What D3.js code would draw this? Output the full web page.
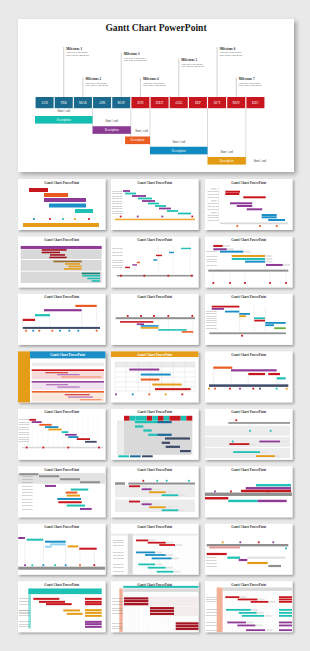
<!DOCTYPE html>
<html>
<head>
<meta charset="utf-8">
<script src="https://cdn.jsdelivr.net/npm/d3@7"></script>
<style>
  html, body { margin: 0; padding: 0; background: #e9e9e9; }
  svg { display: block; }
</style>
</head>
<body>
<div id="chart"></div>
<script>
// ---- main slide data ----
var months = ['JAN', 'FEB', 'MAR', 'APR', 'MAY', 'JUN', 'JULY', 'AUG', 'SEP', 'OCT', 'NOV', 'DEC'];
var monthPhase = ['a', 'a', 'a', 'a', 'a', 'b', 'b', 'b', 'b', 'b', 'b', 'b'];
var milestoneNames = ['Milestone 1', 'Milestone 2', 'Milestone 3', 'Milestone 4', 'Milestone 5', 'Milestone 6', 'Milestone 7'];
var milestoneMonth = [1, 2, 4, 5, 7, 9, 10];
var milestoneTier = [0, 3, 1, 3, 2, 0, 3];
var milestoneNote = ['This slide is an editable', 'slide with all your needs.'];
var taskStart = [0, 3, 4.7, 6, 9];
var taskEnd = [3, 5, 6, 9, 11];
var taskKey = ['teal', 'purple', 'orange', 'blue', 'gold'];
var taskText = 'Description';
var taskNote = 'Start / end';

// ---- thumbnail data: bars [start, end, row, series] ----
var thumbBars = [
  [[11,30,11,'r'],[26,50,16,'o'],[26,68,21,'p'],[31,68,26.5,'b'],[57,75,32,'t']],
  [[12,19,12,'p'],[14,25,14.5,'t'],[21,35,17,'p'],[27,41,19.5,'t'],[31,44,22,'p'],[37,48,24.5,'t'],[44,55,27,'t'],[48,60,29.5,'p'],[56,67,32,'t'],[67,80,34.5,'t']],
  [[20.3,35,12.7,'r'],[20.3,34.3,15,'r'],[38.3,60.7,18.3,'r'],[25,47.3,24.3,'p'],[31.7,47.3,27,'p'],[41.7,57.3,30.3,'p'],[56.7,71.7,36,'b'],[56.7,71.7,38.3,'b'],[63.3,80,41,'b']],
  [[23.7,48.7,13.5,'d'],[23.7,42,16,'d'],[32,47,18.5,'d'],[31.3,48.7,21,'d'],[35.3,63.7,25,'br'],[47,62,27.5,'g'],[50.3,63.7,30,'g'],[46,63.7,32.5,'g'],[63.7,82,37,'dt'],[64.3,82,39.3,'t'],[69.3,82,42,'t'],[73.7,82,44.5,'t']],
  [[70,80,12,'t'],[58,63,16,'b'],[45,51,19,'r'],[42.3,46.3,23.5,'b'],[25.7,29,26,'o'],[21.3,26,28.5,'p'],[14,19,31,'r']],
  [[8.3,17.7,9.5,'r'],[8.3,21.7,12.8,'p'],[15,38.3,15.2,'b'],[26.7,60,19.5,'g'],[26.7,60,22.5,'t'],[40,60,25.2,'b'],[61,77.7,28.5,'p']],
  [[4.7,17,26,'r'],[17,32,21.3,'t'],[26,63.7,16.3,'p'],[57.3,78.7,12,'o']],
  [[9,42.3,28,'r'],[25.7,33,30.3,'p'],[29.7,47.3,32,'b'],[29.7,47.3,34,'g'],[47.3,75.7,36,'t'],[70.7,82.3,38,'o']],
  [[6.7,34.3,12.7,'r'],[6.7,19,15,'p'],[20,34.3,17.7,'b'],[34.3,45,20,'b'],[34.3,41,22.3,'g'],[49,60,24.3,'t'],[49.3,60,26.7,'r'],[60.3,80.7,29,'b'],[60.3,69,31.3,'b'],[69.3,80.7,34.3,'gr']],
  [[27.3,50,21.3,'mr'],[39.3,61.7,23.3,'lp2'],[43.3,83.3,25.7,'lo2'],[28,50,33.3,'lp2'],[39.3,61.7,35.7,'lp2'],[46.7,71.7,43.3,'mr'],[50,75,45.7,'lp2'],[61.7,83.3,48.3,'lo2']],
  [[18.3,48.3,18.2,'p'],[29.7,59.7,23.2,'b'],[29.7,48.3,28.2,'o'],[41.3,70.7,33.2,'g'],[44,79.7,37.8,'r']],
  [[8.3,27.3,16.3,'o'],[26,71.7,19,'p'],[43.3,60,22.7,'r'],[63.3,75,22.7,'r'],[71.7,80.7,27,'t']],
  [[11.3,18,11,'r'],[13.7,23.7,13.3,'p'],[21.3,33.7,16,'o'],[27,40.3,18.3,'b'],[30.3,43.7,20.7,'g'],[43.7,50.3,23.3,'t'],[47,58.7,26,'p'],[50.3,60.3,28.3,'b'],[58.7,72,30.3,'r'],[67,78.7,33,'n']],
  [[24,46.3,13.3,'t'],[46.3,60.7,13.3,'nb'],[24,32.3,17.7,'t'],[32.3,40.7,21.7,'t'],[37.3,46.3,26,'t'],[46.3,60.7,26,'nb'],[54,79,29.7,'n'],[50.7,59,34,'n'],[54.7,69,38,'n'],[69,79.7,42.3,'n']],
  [[54.3,75,32.7,'p'],[24.3,44.3,35.3,'r'],[28.3,55,43.3,'t'],[51,70,47.3,'g']],
  [[1.3,20.3,8,'k'],[21,41.3,10,'k'],[42,62,13,'k'],[62,82,16,'k'],[27,38,19.7,'p'],[52.7,70.3,23.3,'t'],[47.7,59.3,26.3,'o'],[48.7,62,29.3,'g'],[39.3,63,32.7,'b'],[40.3,63.7,36,'r'],[48.7,67,39.3,'t'],[62,73.7,42.7,'p']],
  [[18,29,20,'r'],[30.7,40.7,23,'p'],[38,54.7,26,'g'],[50.7,67.3,29,'t'],[18,29,35.3,'r'],[30.7,40.7,38,'p'],[38,54.7,41,'g'],[50.7,67.3,44,'t']],
  [[51,86,19,'t'],[40.7,86,22,'p'],[36,86,24.7,'r'],[0,23.3,32,'r'],[23.3,52.7,34.7,'t'],[52.7,81.7,34.7,'p']],
  [[0.3,7,14.3,'p'],[8.7,25.3,16,'t'],[27,47.7,18,'b'],[32,47.7,20.7,'lb'],[27,33.7,23,'lb'],[49.7,60.3,22.7,'g'],[61.3,78.7,25,'r']],
  [[25,37.3,16.7,'r'],[36.7,54.7,19,'r'],[48.3,64,21.3,'r'],[25,44,28.7,'b'],[34,54.7,31.3,'b'],[40.7,60.7,34.7,'b'],[27.3,44,40.7,'t'],[36.7,54.7,44,'t'],[45.7,62.3,48,'t']],
  [[4.3,35,23.7,'pk2'],[1.7,21.7,30.3,'r'],[22.3,35,34,'t'],[33.7,42.3,36.3,'p'],[42.3,80.7,34,'l4'],[42.3,62.7,39.3,'g'],[63.3,76,42.3,'k']],
  [[15.3,41.3,17.7,'r'],[21,47,20.7,'r'],[28,53.7,23,'r'],[45.3,62,29.3,'g'],[48.7,64.7,32.7,'g'],[67,83.7,17.7,'r'],[67,83.7,20.7,'r'],[67,83.7,23,'r'],[67,83.7,29,'g'],[67,83.7,31.7,'g'],[67,83.7,34.7,'g'],[67,83.7,40.7,'p'],[67,83.7,43,'p'],[67,83.7,45.7,'p']],
  [[13,37.3,17.3,'d'],[13,37.3,20,'d'],[13,37.3,23,'d'],[39,63,27,'d'],[39,63,29.7,'d'],[39,63,32.7,'d'],[64.7,88,42.3,'d'],[64.7,88,45,'d'],[64.7,88,47.7,'d']],
  [[20.3,34.3,16,'r'],[32.7,52.3,18.3,'r'],[45.7,63.3,20.7,'r'],[21,45.7,28.7,'t'],[33.7,51.7,31.7,'t'],[36.7,59,34.7,'t'],[22.3,41,41.3,'p'],[32.3,50.3,44.3,'p'],[41,60,49,'p'],[74,87,16,'r'],[74,87,18.3,'r'],[74,87,20.7,'r'],[74,87,28.7,'t'],[74,87,31.7,'t'],[74,87,34.7,'t'],[74,87,41.3,'p'],[74,87,44.3,'p'],[74,87,49,'p']]
];

// blocks [start, end, rowTop, rowBottom, series]: timelines, headers, bands
var thumbBlocks = [
  [[5,81,44,48,'g']],
  [[4,84,39.7,41.2,'go']],
  [[15,83,43.5,45.2,'l'],[13,13.5,8,43.5,'l'],[6,11.7,9,10.5,'l'],[6,11.7,21,22.5,'l'],[6,11.7,33,34.5,'l']],
  [[2.7,83.7,9.5,12.5,'p'],[2.7,83.7,12.8,22.5,'l'],[2.7,83.7,23.5,34.3,'l'],[2.7,83.7,35.2,46.5,'l']],
  [[5.7,82.3,38.5,40,'k']],
  [[3.3,83.3,33.2,35.2,'k']],
  [[4.7,82,33,35,'n']],
  [[4.7,84,23.3,25.3,'k']],
  [[4.3,81,38.5,40.3,'k']],
  [[12,87.5,0,7,'b'],[0,12,0,51,'g'],[13.7,86,11.3,14.7,'l3'],[13.7,86,18,19.7,'r'],[13.7,86,20.2,28,'pk'],[13.7,86,29.7,31.3,'p'],[13.7,86,31.8,38.5,'lp'],[13.7,86,39.7,41.3,'o'],[13.7,86,41.8,50,'lo']],
  [[0,88,0,5.7,'g'],[4,84,10.7,15.7,'l3']],
  [[4,83.3,33,35.5,'n']],
  [[3.7,85.3,38,39.5,'l']],
  [[13,18.7,7,12,'r'],[18.7,24.3,7,12,'t'],[24.3,30,7,12,'t'],[30,35.7,7,12,'t'],[35.7,41.3,7,12,'r'],[41.3,47,7,12,'t'],[47,52.7,7,12,'r'],[52.7,58.3,7,12,'t'],[58.3,64,7,12,'r'],[64,69.7,7,12,'r'],[69.7,75.3,7,12,'t'],[75.3,81.3,7,12,'r'],[6.3,81.3,12,46,'l'],[6.3,13,12,46,'l3'],[7.3,18,46.5,48.5,'t'],[19,29.7,46.5,48.5,'nb'],[31,41.7,46.5,48.5,'n']],
  [[23.3,85,13.3,15,'k'],[0,85,17,27,'l3'],[0,85,28.3,38.3,'l3'],[0,85,39.3,49.3,'l3']],
  [[0,87,6.7,17.5,'l4']],
  [[17.3,84,16.3,18.3,'k'],[4,14,16,18.5,'k'],[4,84,19,31,'l3'],[4,84,33.3,45.7,'l3']],
  [[0,87,26.3,29.7,'k']],
  [[0.3,87,43,46,'k']],
  [[0,88,10,12,'l3'],[16.7,21.7,10,51,'l']],
  [[1.7,83.3,20.3,22.7,'k']],
  [[10.3,83.7,7.3,13,'t'],[10.3,13,13,47.3,'t2']],
  [[12.3,88,4.7,6.7,'t'],[8.3,11.7,7.3,51,'s'],[12.3,88,7.3,10.7,'l'],[12.3,88,15.5,25,'l5'],[39,88,25.5,35,'l5'],[64.7,88,40,50,'l5']],
  [[11.7,17.7,6.3,51,'s'],[17.7,87,6.3,9.7,'l']]
];

// marks [time, row, series]: milestone squares and legend keys
var thumbMarks = [
  [[16,40,'b'],[32,40,'r'],[45,40,'t'],[57,40,'g'],[71,40,'r']],
  [[9.7,37.5,'r'],[26.7,37.5,'p'],[51.3,37.5,'p'],[81.3,37.5,'r']],
  [[32.3,47,'o'],[55,47,'o'],[71.7,47,'o']],
  [],
  [[10,39.2,'r'],[33.3,39.2,'r'],[57.3,39.2,'r'],[80.7,39.2,'r']],
  [[8.3,46.5,'r'],[25,46.5,'r'],[40,46.5,'r'],[65,46.5,'r'],[81,46.5,'r']],
  [[8,36.8,'o'],[15.3,36.8,'b'],[21.3,36.8,'o'],[34.3,36.8,'o'],[42,36.8,'b'],[51.3,36.8,'b'],[60.3,36.8,'b'],[78.7,36.8,'o']],
  [[16.7,22,'r'],[30,22,'r'],[43,22,'r'],[57.3,22,'r'],[81.3,22,'r']],
  [[37,41.8,'r']],
  [],
  [[5,43,'p'],[21.7,43,'b'],[38.3,43,'o'],[54.7,43,'g'],[71.3,43,'r']],
  [[4,37.3,'g'],[10,37.3,'o'],[25,37.3,'r'],[35,37.3,'p'],[48.3,37.3,'r'],[55,37.3,'n'],[71.7,37.3,'t'],[81.7,37.3,'g']],
  [[8.7,38.7,'r'],[25.3,38.7,'r'],[50.3,38.7,'r'],[81,38.7,'r']],
  [],
  [[31.3,11.5,'r'],[45,22,'t'],[65.7,22,'t'],[27.7,32.7,'t']],
  [],
  [[32.3,14.5,'r'],[46.3,14.5,'t'],[55.7,14.5,'t'],[78,14.5,'t']],
  [[10,25.2,'p'],[26,25.2,'r'],[63.3,25.2,'r']],
  [[7,41.5,'p'],[14.3,41.5,'t'],[25.3,41.5,'b'],[37,41.5,'t'],[47.7,41.5,'b'],[62,41.5,'o'],[76.3,41.5,'r']],
  [],
  [[17.7,18.6,'g'],[35.3,18.6,'p'],[53.7,18.6,'r'],[68.3,18.6,'p'],[81,24.7,'t']],
  [],
  [],
  []
];

// thin connector lines [t0, t1, r0, r1, series]
var thumbLines = [
  [[16,16,35,39,'l'],[32,32,35,39,'l'],[45,45,35,39,'l'],[57,57,35,39,'l'],[71,71,35,39,'l']],
  [],
  [],
  [],
  [[47.3,47.3,8,39,'pk'],[62.3,62.3,8,39,'pk'],[79,79,5,39,'pk']],
  [[8.3,8.3,35,45,'pk'],[25,25,35,45,'pk'],[40,40,35,45,'pk'],[65,65,35,45,'pk'],[81,81,35,45,'pk']],
  [[4.7,4.7,27,33,'l'],[17,17,22,33,'l'],[32,32,22,33,'l'],[63.7,63.7,17,33,'l'],[78.7,78.7,13,33,'l']],
  [[47.3,47.3,25,44,'pk'],[57.3,57.3,25,44,'pk'],[81.3,81.3,25,44,'pk']],
  [[34.3,34.3,12,38.5,'l'],[49,49,12,38.5,'l'],[60.3,60.3,12,38.5,'l']],
  [],
  [[4,84,10.7,10.7,'l'],[4,84,15.7,15.7,'l'],[4,84,20.7,20.7,'l'],[4,84,25.7,25.7,'l'],[4,84,30.7,30.7,'l'],[4,84,35.7,35.7,'l'],[4,84,39.7,39.7,'l'],
   [4,4,10.7,39.7,'l'],[15,15,10.7,39.7,'l'],[27.3,27.3,10.7,39.7,'l'],[39,39,10.7,39.7,'l'],[50.7,50.7,10.7,39.7,'l'],[62.3,62.3,10.7,39.7,'l'],[74,74,10.7,39.7,'l'],[84,84,10.7,39.7,'l']],
  [[8.3,8.3,17,33,'l'],[26,26,20,33,'l'],[43.3,43.3,24,33,'l'],[71.7,71.7,28,33,'l']],
  [],
  [],
  [],
  [],
  [],
  [],
  [[7,7,16,41,'l'],[25.3,25.3,18,41,'l'],[47.7,47.7,20,41,'l'],[62,62,24,41,'l'],[76.3,76.3,26,41,'l']],
  [],
  [],
  [],
  [],
  []
];

// ---- layout & styles ----
var W = 310, H = 651;
var colors = {
  r: '#c8161e', t: '#1fc1b5', p: '#8e3a96', o: '#ea5b22', b: '#1a8fc7', g: '#e59c17', go: '#f0a830',
  n: '#3e4b68', k: '#8f8f8f', l: '#d9d9d9', l3: '#ececec', l4: '#e2e2e2', l5: '#f6eeee',
  d: '#a3121f', br: '#9a6a22', dt: '#157f72', nb: '#1d6a99', pk: '#f6dada', pk2: '#e89a9a',
  lb: '#8fd3f0', gr: '#6cae3b', s: '#f4b096', lp: '#f0e2f1', lp2: '#b777bd', lo: '#fbe8dc',
  lo2: '#f29a6e', mr: '#d64a4a', t2: '#8be3dc'
};
var taskColors = { teal: '#14bfb1', purple: '#8b3a94', orange: '#ea5c1f', blue: '#0f8bc1', gold: '#e39b13' };
var phaseColors = { a: '#1b6a8e', b: '#c8161e' };
var serif = '"Liberation Serif", "DejaVu Serif", serif';

var thumbCols = [18, 111, 205];
var thumbRows = d3.range(8).map(function(i) { return 179 + i * 57.45; });
var TW = 87.5, TH = 51;
var barH = [4, 1.8, 2, 1.6, 1.4, 2, 2.2, 1.6, 1.8, 1.3, 2, 2.2, 1.8, 2.2, 1.8, 2, 1.8, 2.4, 2, 1.8, 2.2, 2, 2.2, 1.8];
var headerTitle = { 9: [12, 87.5], 10: [0, 88] };   // thumbs whose title sits in a coloured header
var labelCol = { 1: 0.8, 2: 2.5, 4: 1, 5: 1.5, 8: 1, 12: 0.5, 15: 4, 19: 2, 20: 1, 21: 1, 22: 1, 23: 1 };
var trailing = { 16: 1, 19: 1, 23: 1, 14: 1, 5: 1 };
var gridLines = { 19: [22, 88, 12, 51, 3], 22: [12.3, 88, 10.7, 51, 2.5], 23: [17.7, 87, 9.7, 51, 2.5], 12: [10, 85, 9, 38, 5] };

var svg = d3.select('#chart').append('svg').attr('width', W).attr('height', H);
var defs = svg.append('defs');
defs.append('filter').attr('id', 'shadowBig').attr('x', '-5%').attr('y', '-5%').attr('width', '115%').attr('height', '120%')
  .append('feDropShadow').attr('dx', 2.5).attr('dy', 2.5).attr('stdDeviation', 2).attr('flood-color', '#000').attr('flood-opacity', 0.3);
defs.append('filter').attr('id', 'shadowSmall').attr('x', '-8%').attr('y', '-8%').attr('width', '120%').attr('height', '125%')
  .append('feDropShadow').attr('dx', 1.5).attr('dy', 1.5).attr('stdDeviation', 1.2).attr('flood-color', '#000').attr('flood-opacity', 0.35);

svg.append('rect').attr('width', W).attr('height', H).attr('fill', '#e9e9e9');

// ---------------- main slide ----------------
var slide = svg.append('g');
slide.append('rect').attr('x', 18).attr('y', 19).attr('width', 276).attr('height', 153)
  .attr('fill', '#fff').attr('filter', 'url(#shadowBig)');
slide.append('text').attr('x', 156).attr('y', 30.5).attr('text-anchor', 'middle')
  .attr('font-family', serif).attr('font-weight', 'bold').attr('font-size', 9.6).attr('fill', '#1a1a1a')
  .text('Gantt Chart PowerPoint');

var xMonth = d3.scaleBand().domain(months).range([35, 265]).paddingInner(0.06).paddingOuter(0.03);
var xTime = d3.scaleLinear().domain([0, 12]).range([35, 265]);
var barTop = 97, barBottom = 108.2;
var tierY = d3.scaleOrdinal().domain([0, 1, 2, 3]).range([47, 52.5, 58.5, 77.5]);
var taskY = d3.scaleLinear().domain([0, 4]).range([116, 157]);
var taskH = 7.6;

// milestone stems and notes
var ms = slide.selectAll('g.ms').data(milestoneNames).enter().append('g').attr('class', 'ms');
ms.append('line')
  .attr('x1', function(d, i) { return xMonth(months[milestoneMonth[i]]) + xMonth.bandwidth() / 2; })
  .attr('x2', function(d, i) { return xMonth(months[milestoneMonth[i]]) + xMonth.bandwidth() / 2; })
  .attr('y1', function(d, i) { return tierY(milestoneTier[i]); })
  .attr('y2', barTop)
  .attr('stroke', '#c9c9c9').attr('stroke-width', 0.9);
ms.append('text')
  .attr('x', function(d, i) { return xMonth(months[milestoneMonth[i]]) + xMonth.bandwidth() / 2 + 2.6; })
  .attr('y', function(d, i) { return tierY(milestoneTier[i]) + 2.5; })
  .attr('font-family', serif).attr('font-weight', 'bold').attr('font-size', 3.2).attr('fill', '#222')
  .text(function(d) { return d; });
milestoneNote.forEach(function(line, j) {
  ms.append('text')
    .attr('x', function(d, i) { return xMonth(months[milestoneMonth[i]]) + xMonth.bandwidth() / 2 + 2.6; })
    .attr('y', function(d, i) { return tierY(milestoneTier[i]) + 6.2 + j * 2.6; })
    .attr('font-family', serif).attr('font-size', 2.3).attr('fill', '#444')
    .text(line);
});

// month strip
slide.selectAll('rect.month').data(months).enter().append('rect').attr('class', 'month')
  .attr('x', function(d) { return xMonth(d); }).attr('y', barTop)
  .attr('width', xMonth.bandwidth()).attr('height', barBottom - barTop)
  .attr('fill', function(d, i) { return phaseColors[monthPhase[i]]; });
slide.selectAll('text.month').data(months).enter().append('text').attr('class', 'month')
  .attr('x', function(d) { return xMonth(d) + xMonth.bandwidth() / 2; }).attr('y', barTop + 6.7)
  .attr('text-anchor', 'middle').attr('font-family', serif).attr('font-size', 3.4).attr('fill', '#fff')
  .text(function(d) { return d; });

// guide lines at task ends
slide.selectAll('line.guide').data(taskEnd).enter().append('line').attr('class', 'guide')
  .attr('x1', function(d) { return xTime(d); }).attr('x2', function(d) { return xTime(d); })
  .attr('y1', barBottom)
  .attr('y2', function(d, i) { return i < taskEnd.length - 1 ? taskY(i + 1) : taskY(i) + taskH; })
  .attr('stroke', '#d0d0d0').attr('stroke-width', 0.8);

// task bars
var tk = slide.selectAll('g.task').data(taskStart).enter().append('g').attr('class', 'task');
tk.append('rect')
  .attr('x', function(d) { return xTime(d); })
  .attr('y', function(d, i) { return taskY(i); })
  .attr('width', function(d, i) { return xTime(taskEnd[i]) - xTime(d); })
  .attr('height', taskH)
  .attr('fill', function(d, i) { return taskColors[taskKey[i]]; });
tk.append('text')
  .attr('x', function(d, i) { return (xTime(d) + xTime(taskEnd[i])) / 2; })
  .attr('y', function(d, i) { return taskY(i) + taskH / 2 + 1; })
  .attr('text-anchor', 'middle').attr('font-family', serif).attr('font-size', 3).attr('fill', '#fff')
  .text(taskText);
tk.append('text')
  .attr('x', function(d, i) { return (xTime(d) + xTime(taskEnd[i])) / 2 + (i === 2 ? 4 : 0); })
  .attr('y', function(d, i) { return taskY(i) - 4.2; })
  .attr('text-anchor', 'middle').attr('font-family', serif).attr('font-size', 3).attr('fill', '#333')
  .text(taskNote);
slide.append('text')
  .attr('x', xTime(taskEnd[taskEnd.length - 1]) + 14).attr('y', taskY(taskEnd.length - 1) + taskH / 2 + 1)
  .attr('text-anchor', 'middle').attr('font-family', serif).attr('font-size', 3).attr('fill', '#333')
  .text(taskNote);

// ---------------- thumbnails ----------------
var tx = d3.scaleLinear().domain([0, 88]).range([0, TW + 0.5]);
var ty = d3.scaleLinear().domain([0, 51]).range([0, TH]);

thumbBars.forEach(function(bars, k) {
  var g = svg.append('g').attr('transform', 'translate(' + thumbCols[k % 3] + ',' + thumbRows[Math.floor(k / 3)] + ')');
  g.append('rect').attr('width', TW).attr('height', TH).attr('fill', '#fff').attr('filter', 'url(#shadowSmall)');
  var inner = g.append('g');

  // background blocks
  inner.selectAll('rect.blk').data(thumbBlocks[k]).enter().append('rect')
    .attr('x', function(d) { return tx(d[0]); }).attr('y', function(d) { return ty(d[2]); })
    .attr('width', function(d) { return Math.min(tx(d[1]), TW) - tx(d[0]); })
    .attr('height', function(d) { return Math.min(ty(d[3]), TH) - ty(d[2]); })
    .attr('fill', function(d) { return colors[d[4]]; });

  // faint grid
  if (gridLines[k]) {
    var gl = gridLines[k];
    inner.selectAll('line.grid').data(d3.range(gl[0], gl[1], gl[4])).enter().append('line')
      .attr('x1', function(d) { return tx(d); }).attr('x2', function(d) { return tx(d); })
      .attr('y1', ty(gl[2])).attr('y2', ty(gl[3]))
      .attr('stroke', '#e6e6e6').attr('stroke-width', 0.3);
  }

  // connector lines
  inner.selectAll('line.cn').data(thumbLines[k]).enter().append('line')
    .attr('x1', function(d) { return tx(d[0]); }).attr('x2', function(d) { return tx(d[1]); })
    .attr('y1', function(d) { return ty(d[2]); }).attr('y2', function(d) { return ty(d[3]); })
    .attr('stroke', function(d) { return colors[d[4]]; }).attr('stroke-width', 0.4);

  // row labels
  if (labelCol[k] !== undefined) {
    var rowsSeen = [];
    bars.forEach(function(b) { if (rowsSeen.indexOf(b[2]) < 0 && b[0] > labelCol[k] + 8) rowsSeen.push(b[2]); });
    inner.selectAll('text.lbl').data(rowsSeen).enter().append('text')
      .attr('x', tx(labelCol[k])).attr('y', function(d) { return ty(d) + 0.6; })
      .attr('font-family', 'Roboto, sans-serif').attr('font-size', 1.5).attr('fill', '#8a8a8a')
      .text('Task name here');
  }

  // trailing grey stubs after bars
  if (trailing[k]) {
    inner.selectAll('rect.trail').data(bars.filter(function(b) { return b[1] < 80; })).enter().append('rect')
      .attr('x', function(d) { return tx(d[1]) + 0.3; })
      .attr('y', function(d) { return ty(d[2]) - barH[k] / 2; })
      .attr('width', tx(7)).attr('height', barH[k])
      .attr('fill', '#e4e4e4');
  }

  // task bars
  inner.selectAll('rect.bar').data(bars).enter().append('rect')
    .attr('x', function(d) { return tx(d[0]); })
    .attr('y', function(d) { return ty(d[2]) - barH[k] / 2; })
    .attr('width', function(d) { return Math.min(tx(d[1]), TW) - tx(d[0]); })
    .attr('height', barH[k])
    .attr('fill', function(d) { return colors[d[3]]; });

  // milestone marks
  inner.selectAll('rect.mk').data(thumbMarks[k]).enter().append('rect')
    .attr('x', function(d) { return tx(d[0]) - 0.9; }).attr('y', function(d) { return ty(d[1]) - 0.9; })
    .attr('width', 1.8).attr('height', 1.8)
    .attr('fill', function(d) { return colors[d[2]]; });

  // title
  var ht = headerTitle[k];
  g.append('text')
    .attr('x', ht ? (tx(ht[0]) + Math.min(tx(ht[1]), TW)) / 2 : TW / 2)
    .attr('y', ht ? 4.4 : 4.6)
    .attr('text-anchor', 'middle').attr('font-family', serif).attr('font-weight', 'bold')
    .attr('font-size', 3.3).attr('fill', ht ? '#fff' : '#333')
    .text('Gantt Chart PowerPoint');
});
</script>
</body>
</html>
